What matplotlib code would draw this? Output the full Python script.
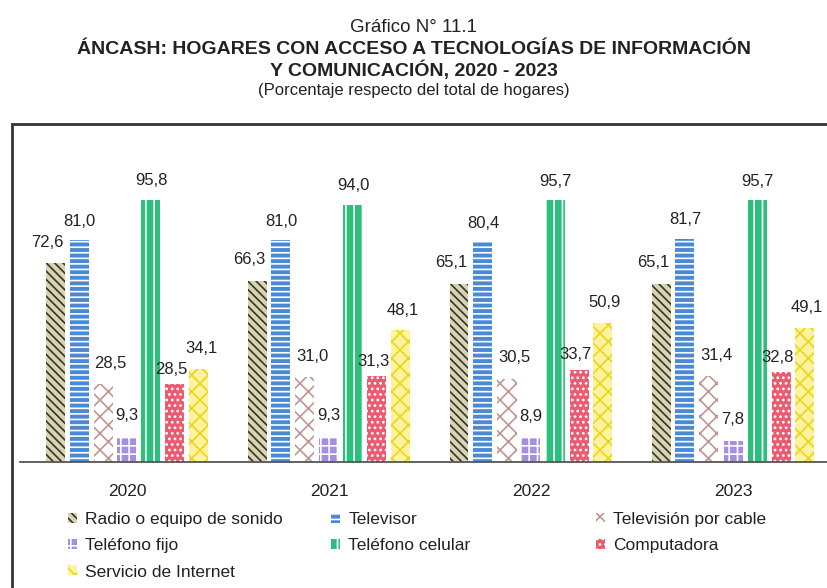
import numpy as np
import matplotlib.pyplot as plt
from matplotlib.patches import Rectangle

plt.rcParams['font.family'] = ['Liberation Sans', 'DejaVu Sans']
plt.rcParams['hatch.linewidth'] = 1.2

# data
years = ['2020', '2021', '2022', '2023']
series = ['Radio o equipo de sonido', 'Televisor', 'Televisión por cable',
          'Teléfono fijo', 'Teléfono celular', 'Computadora', 'Servicio de Internet']
radio = [72.6, 66.3, 65.1, 65.1]
televisor = [81.0, 81.0, 80.4, 81.7]
cable = [28.5, 31.0, 30.5, 31.4]
fijo = [9.3, 9.3, 8.9, 7.8]
celular = [95.8, 94.0, 95.7, 95.7]
computadora = [28.5, 31.3, 33.7, 32.8]
internet = [34.1, 48.1, 50.9, 49.1]
values = [radio, televisor, cable, fijo, celular, computadora, internet]

# styles: face, hatch colour, hatch
styles = [('#d9d4b0', '#35352a', '\\\\\\\\'),
          ('#4a8ad4', 'white', '---'),
          ('white', '#c09590', 'xx'),
          ('#a78fe0', 'white', '++'),
          ('#2cc07c', 'white', '||'),
          ('#ec5a70', 'white', '...'),
          ('#fff3a0', '#ecd418', 'xx')]
# label offsets in px (dx, dy above bar top)
lab_dx = [-8, 0, 7, 0, 0, -4, 2]
lab_dy = [21, 19, 21, 21, 19, 15, 20]

fig = plt.figure(figsize=(8.28, 5.88), dpi=100)
ax = fig.add_axes([20/828, 1-462/588, 1-20/828, (462-130)/588])

x = np.arange(len(years))
step = 24/202
width = 19/202
bars = []
for i, (vals, st) in enumerate(zip(values, styles)):
    pos = x + (i - 3) * step
    b = ax.bar(pos, vals, width, facecolor=st[0], edgecolor=st[1],
               hatch=st[2], linewidth=0, label=series[i])
    bars.append(b)
    for p, v in zip(pos, vals):
        ax.annotate(f'{v:.1f}'.replace('.', ','), (p, v),
                    xytext=(lab_dx[i]*0.72, lab_dy[i]*0.72), textcoords='offset points',
                    ha='center', va='center', fontsize=12, color='#222222')

ax.set_xlim((20-127)/202, (828-127)/202)
ax.set_ylim(0, (462-130)/2.735)
for s in ['top', 'right', 'left']:
    ax.spines[s].set_visible(False)
ax.spines['bottom'].set_color('#555555')
ax.spines['bottom'].set_linewidth(1.3)
ax.set_yticks([])
ax.set_xticks(x)
ax.set_xticklabels(years, fontsize=12.5, color='#222222')
ax.tick_params(axis='x', length=0, pad=16)

# legend in three columns
cols = [[0, 3, 6], [1, 4], [2, 5]]
col_x = [68, 331, 596]
for c, cx in zip(cols, col_x):
    leg = fig.legend([bars[k] for k in c], [series[k] for k in c],
                     loc='upper left', bbox_to_anchor=(cx/828, 1-512/588),
                     frameon=False, fontsize=12.5, borderpad=0, borderaxespad=0,
                     handlelength=0.5, handleheight=0.5, handletextpad=0.5,
                     labelspacing=0.65)
    for t in leg.get_texts():
        t.set_color('#222222')

# frame around chart
fig.patches.append(Rectangle((12/828, -0.2), 1.2, 1.2 - 124/588, transform=fig.transFigure,
                             fill=False, edgecolor='#333333', linewidth=2, clip_on=False))

fig.text(0.5, 1-28/588, 'Gráfico N° 11.1', ha='center', va='center', fontsize=13.5, color='#222222')
fig.text(0.5, 1-49/588, 'ÁNCASH: HOGARES CON ACCESO A TECNOLOGÍAS DE INFORMACIÓN',
         ha='center', va='center', fontsize=14, fontweight='bold', color='#222222')
fig.text(0.5, 1-70/588, 'Y COMUNICACIÓN, 2020 - 2023',
         ha='center', va='center', fontsize=14, fontweight='bold', color='#222222')
fig.text(0.5, 1-90/588, '(Porcentaje respecto del total de hogares)',
         ha='center', va='center', fontsize=12, color='#222222')

fig.savefig('out.png', dpi=100)
